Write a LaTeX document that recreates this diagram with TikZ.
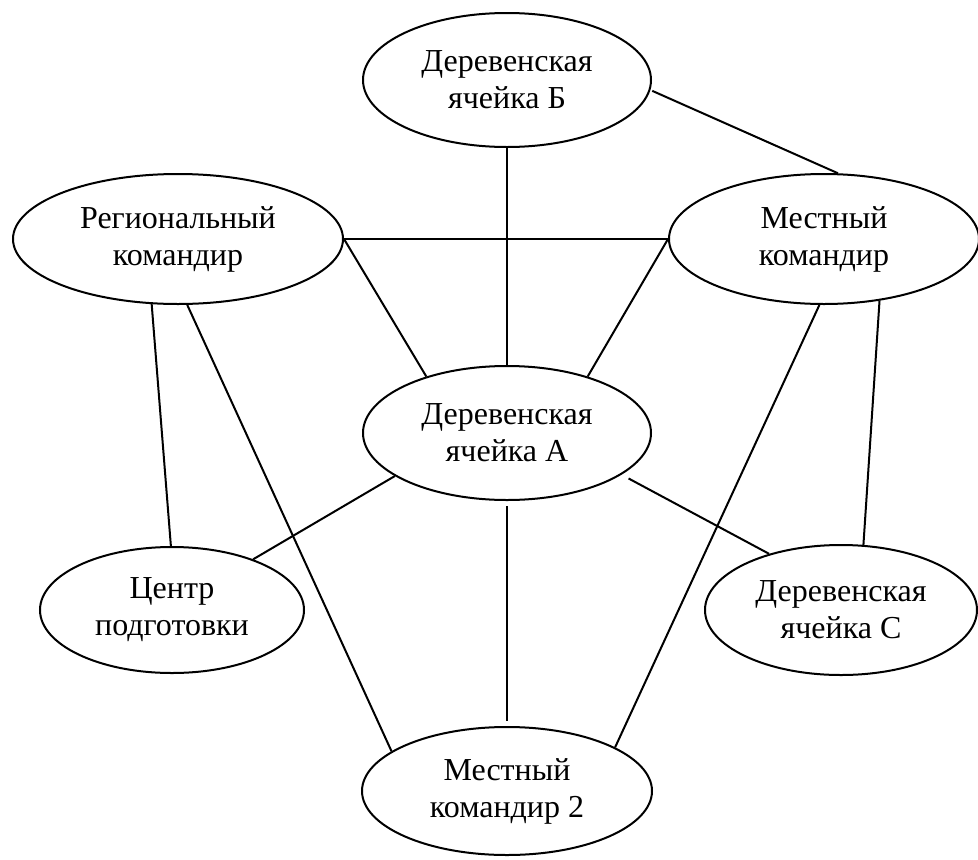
\documentclass[tikz,border=0pt]{standalone}
\usepackage{fontspec}
\setmainfont{Liberation Serif}
\usetikzlibrary{shapes.geometric}
\begin{document}
\begin{tikzpicture}[x=1pt,y=-1pt,
  oval/.style={draw=black,line width=2pt,ellipse,inner sep=0pt,align=center,
    font=\fontsize{32}{37}\selectfont},
  link/.style={draw=black,line width=2pt}]
\useasboundingbox (0,0) rectangle (978,860);
\node[oval,minimum width=288pt,minimum height=134pt] (B) at (507,80) {Деревенская\\ячейка Б};
\node[oval,minimum width=330pt,minimum height=130pt] (R) at (178,239) {Региональный\\командир};
\node[oval,minimum width=310pt,minimum height=130pt] (M) at (824,239) {Местный\\командир};
\node[oval,minimum width=288pt,minimum height=134pt] (A) at (507,433) {Деревенская\\ячейка А};
\node[oval,minimum width=264pt,minimum height=126pt] (T) at (172,610) {Центр\\подготовки};
\node[oval,minimum width=272pt,minimum height=130pt] (C) at (841,610) {Деревенская\\ячейка С};
\node[oval,minimum width=290pt,minimum height=128pt] (K) at (507,791) {Местный\\командир 2};

\draw[link,shorten <=2pt] (B.-4.3) -- (M.78.6);
\draw[link] (B.south) -- (A.north);
\draw[link] (R.east) -- (M.west);
\draw[link] (R.east) -- (A.145.5);
\draw[link] (M.west) -- (A.35.5);
\draw[link] (R.248.2) -- (T.91);
\draw[link] (R.-82.2) -- (K.161.3);
\draw[link] (M.-94.3) -- (K.22.7);
\draw[link] (M.-48.8) -- (C.71.6);
\draw[link] (A.201.3) -- (T.32.1);
\draw[link,shorten <=8pt] (A.-20) -- (C.142.4);
\draw[link,shorten <=5pt,shorten >=5pt] (A.south) -- (K.north);
\end{tikzpicture}
\end{document}
